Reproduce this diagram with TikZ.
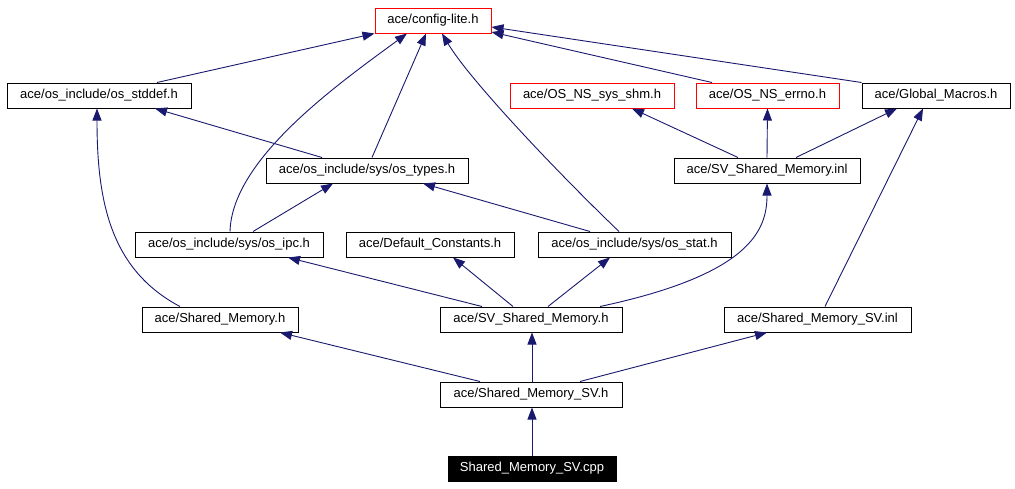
\documentclass[tikz,border=0pt]{standalone}
\usepackage{fontspec}
\setmainfont{Liberation Sans}
\usetikzlibrary{arrows.meta}
\definecolor{edgeblue}{HTML}{191970}
\tikzset{
  box/.style={draw=black, line width=1pt, fill=white, minimum height=25pt, inner sep=0pt, font=\fontsize{13}{15}\selectfont},
  redbox/.style={box, draw=red},
  blackbox/.style={box, fill=black, text=white},
  edge/.style={draw=edgeblue, line width=0.9pt, -{Triangle[length=12pt,width=9pt]}}
}
\begin{document}
\begin{tikzpicture}[x=1pt, y=-1pt]
\useasboundingbox[fill=white] (0,0) rectangle (1015,488);
% nodes
\node[redbox, minimum width=116pt] (config) at (433,20.5) {ace/config-lite.h};
\node[box, minimum width=184pt] (stddef) at (99,95.5) {ace/os\_include/os\_stddef.h};
\node[redbox, minimum width=164pt] (shm) at (592,95.5) {ace/OS\_NS\_sys\_shm.h};
\node[redbox, minimum width=143pt] (errno) at (767.5,95.5) {ace/OS\_NS\_errno.h};
\node[box, minimum width=148pt] (global) at (936,95.5) {ace/Global\_Macros.h};
\node[box, minimum width=202pt] (types) at (367,170.5) {ace/os\_include/sys/os\_types.h};
\node[box, minimum width=186pt] (svinl) at (767,170.5) {ace/SV\_Shared\_Memory.inl};
\node[box, minimum width=188pt] (ipc) at (229,244.5) {ace/os\_include/sys/os\_ipc.h};
\node[box, minimum width=168pt] (defc) at (430,244.5) {ace/Default\_Constants.h};
\node[box, minimum width=193pt] (stat) at (634.5,244.5) {ace/os\_include/sys/os\_stat.h};
\node[box, minimum width=156pt] (shmh) at (220,319.5) {ace/Shared\_Memory.h};
\node[box, minimum width=182pt] (svh) at (531,319.5) {ace/SV\_Shared\_Memory.h};
\node[box, minimum width=187pt] (sminl) at (817.5,319.5) {ace/Shared\_Memory\_SV.inl};
\node[box, minimum width=182pt] (smsvh) at (531,394.5) {ace/Shared\_Memory\_SV.h};
\node[blackbox, minimum width=168pt] (cpp) at (532,468.5) {Shared\_Memory\_SV.cpp};
% edges
\draw[edge] ([xshift=58pt]stddef.north) -- (config.south west);
\draw[edge] ([xshift=1pt]ipc.north) .. controls ([xshift=3pt,yshift=72pt]ipc.north) and ([xshift=-97pt,yshift=-52pt]config.south) .. ([xshift=-26pt]config.south);
\draw[edge] ([xshift=5pt]types.north) -- ([xshift=-7pt]config.south);
\draw[edge] ([xshift=-15.5pt]stat.north) .. controls ([xshift=-75pt,yshift=57pt]stat.north) and ([xshift=37pt,yshift=-47pt]config.south) .. ([xshift=9pt]config.south);
\draw[edge] ([xshift=-55.5pt]errno.north) -- ([yshift=-11.5pt]config.east);
\draw[edge] (global.north west) -- ([yshift=-6.5pt]config.east);
\draw[edge] ([xshift=-45pt]types.north) -- ([xshift=56pt]stddef.south);
\draw[edge] ([xshift=-40pt]shmh.north) .. controls ([xshift=-110pt,yshift=37pt]shmh.north) and ([xshift=-2pt,yshift=-92pt]stddef.south) .. ([xshift=-2pt]stddef.south);
\draw[edge] ([xshift=24pt]ipc.north) -- ([xshift=-34pt]types.south);
\draw[edge] ([xshift=-44.5pt]stat.north) -- ([xshift=56pt]types.south);
\draw[edge] ([xshift=-29pt]svinl.north) -- ([xshift=40pt]shm.south);
\draw[edge] (svinl.north) -- (errno.south);
\draw[edge] ([xshift=29pt]svinl.north) -- ([xshift=-39pt]global.south);
\draw[edge] ([xshift=7.5pt]sminl.north) -- ([xshift=-13pt]global.south);
\draw[edge] ([xshift=69pt]svh.north) .. controls ([xshift=219pt,yshift=32pt]svh.north) and ([yshift=-47pt]svinl.south) .. (svinl.south);
\draw[edge] ([xshift=-49pt]svh.north) -- ([xshift=59pt]ipc.south);
\draw[edge] ([xshift=-18pt]svh.north) -- ([xshift=23pt]defc.south);
\draw[edge] ([xshift=17pt]svh.north) -- ([xshift=-24.5pt]stat.south);
\draw[edge] ([xshift=-51pt]smsvh.north) -- ([xshift=60pt]shmh.south);
\draw[edge] ([xshift=1pt]smsvh.north) -- ([xshift=1pt]svh.south);
\draw[edge] ([xshift=49pt]smsvh.north) -- ([xshift=-50.5pt]sminl.south);
\draw[edge] (cpp.north) -- ([xshift=1pt]smsvh.south);
\end{tikzpicture}
\end{document}
